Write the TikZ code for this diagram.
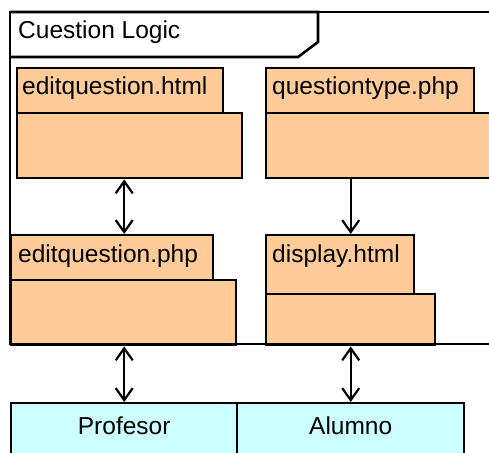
\documentclass[tikz,border=0pt]{standalone}
\usepackage{fontspec}
\setmainfont{Liberation Sans}
\usetikzlibrary{arrows.meta,calc}
\definecolor{peach}{HTML}{FFCC99}
\definecolor{paleCyan}{HTML}{CCFFFF}
\begin{document}
\begin{tikzpicture}[x=1pt,y=-1pt,
  box/.style={draw=black,line width=2.4pt,fill=peach,rectangle,inner sep=0pt,anchor=north west},
  actor/.style={draw=black,line width=2.4pt,fill=paleCyan,rectangle,inner sep=0pt,anchor=north west,
     minimum height=70pt},
  lbl/.style={anchor=base west,inner sep=0pt,font=\fontsize{24.5}{29}\selectfont},
  link/.style={line width=2.2pt,black},
  barb/.tip={Straight Barb[length=12pt,width=17pt,line width=2.2pt]}
]
\useasboundingbox (0,0) rectangle (489,452);
\clip (0,0) rectangle (489,452);
\fill[white] (0,0) rectangle (489,452);
% outer package frame
\coordinate (frameNW) at (10,12);
\draw[line width=2.8pt] (520,12) -- (frameNW) -- (10,344) -- (520,344);
% title tab
\draw[line width=2.6pt] (10,12) -- (318,12) -- (318,42) -- (298,57) -- (10,57);
\node[lbl] (title) at (18,39) {Cuestion Logic};
% editquestion.html
\node[box,minimum width=225pt,minimum height=65pt] (eqhtmlbody) at (16,112) {};
\node[box,minimum width=206pt,minimum height=45pt] (eqhtmltab) at (16,67) {};
\node[lbl] (eqhtmltxt) at ($(eqhtmltab.north west)+(6,27)$) {editquestion.html};
% questiontype.php
\node[box,minimum width=260pt,minimum height=65pt] (qtbody) at (265,112) {};
\node[box,minimum width=208pt,minimum height=45pt] (qttab) at (265,67) {};
\node[lbl] (qttxt) at ($(qttab.north west)+(7,27)$) {questiontype.php};
% editquestion.php
\node[box,minimum width=225pt,minimum height=65pt] (eqphpbody) at (10,279) {};
\node[box,minimum width=202pt,minimum height=45pt] (eqphptab) at (10,234) {};
\node[lbl] (eqphptxt) at ($(eqphptab.north west)+(8,28)$) {editquestion.php};
% display.html
\node[box,minimum width=169pt,minimum height=51pt] (dispbody) at (265,293) {};
\node[box,minimum width=148pt,minimum height=59pt] (disptab) at (265,234) {};
\node[lbl] (disptxt) at ($(disptab.north west)+(7,28)$) {display.html};
% redraw frame bottom over bodies
\draw[line width=2.8pt] (10,344) -- (520,344);
% actors
\node[actor,minimum width=226pt] (profesor) at (10,402) {};
\node[actor,minimum width=227pt] (alumno) at (236,402) {};
\node[lbl,anchor=base] (proftxt) at ($(profesor.north)+(0,32)$) {Profesor};
\node[lbl,anchor=base] (alutxt) at ($(alumno.north)+(0,32)$) {Alumno};
% connectors
\draw[link,{barb}-{barb}] (eqhtmlbody.south -| profesor.north) -- (eqphptab.north -| profesor.north);
\draw[link,-{barb}] (qtbody.south -| alumno.north) -- (disptab.north -| alumno.north);
\draw[link,{barb}-{barb}] (eqphpbody.south -| profesor.north) -- (profesor.north);
\draw[link,{barb}-{barb}] (dispbody.south -| alumno.north) -- (alumno.north);
\end{tikzpicture}
\end{document}
